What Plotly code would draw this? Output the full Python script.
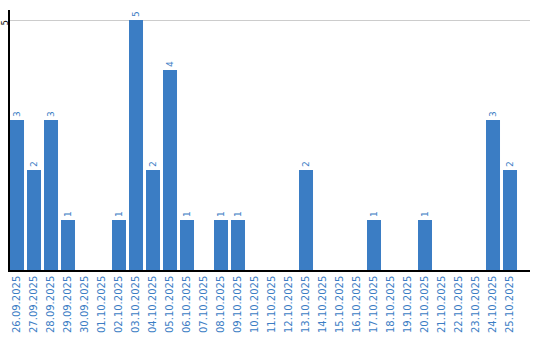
import plotly.graph_objects as go

dates = ["26.09.2025", "27.09.2025", "28.09.2025", "29.09.2025", "30.09.2025",
         "01.10.2025", "02.10.2025", "03.10.2025", "04.10.2025", "05.10.2025",
         "06.10.2025", "07.10.2025", "08.10.2025", "09.10.2025", "10.10.2025",
         "11.10.2025", "12.10.2025", "13.10.2025", "14.10.2025", "15.10.2025",
         "16.10.2025", "17.10.2025", "18.10.2025", "19.10.2025", "20.10.2025",
         "21.10.2025", "22.10.2025", "23.10.2025", "24.10.2025", "25.10.2025"]
counts = [3, 2, 3, 1, 0, 0, 1, 5, 2, 4, 1, 0, 1, 1, 0, 0, 0, 2, 0, 0,
          0, 1, 0, 0, 1, 0, 0, 0, 3, 2]

blue = "#3b7dc4"
labels = [str(v) if v > 0 else "" for v in counts]

fig = go.Figure(go.Bar(
    x=dates, y=counts, marker=dict(color=blue, line=dict(width=0)),
    text=labels, textposition="outside", textangle=-90,
    textfont=dict(family="DejaVu Sans", size=9, color=blue),
    constraintext="none", cliponaxis=False, hoverinfo="skip",
))

fig.update_layout(
    width=540, height=340,
    margin=dict(l=10, r=10, t=10, b=70, autoexpand=False),
    paper_bgcolor="white", plot_bgcolor="white",
    bargap=0.176, showlegend=False,
    uniformtext=dict(mode=False),
)
fig.update_xaxes(
    type="category", range=[-0.412, 30.176], automargin=False,
    showline=True, linecolor="black", linewidth=1.5,
    showgrid=False, ticks="", tickangle=-90,
    tickfont=dict(family="DejaVu Sans", size=10, color=blue),
)
fig.update_yaxes(
    range=[0, 5.2], tickvals=[5], ticktext=["5"], tickangle=-90, automargin=False,
    showline=True, linecolor="black", linewidth=1.5,
    showgrid=True, gridcolor="#cccccc", gridwidth=1,
    zeroline=False, ticks="", ticklen=0, ticklabelstandoff=-3, ticklabelshift=4,
    tickfont=dict(family="DejaVu Sans", size=8, color="black"),
)

fig.write_html("out.html")
